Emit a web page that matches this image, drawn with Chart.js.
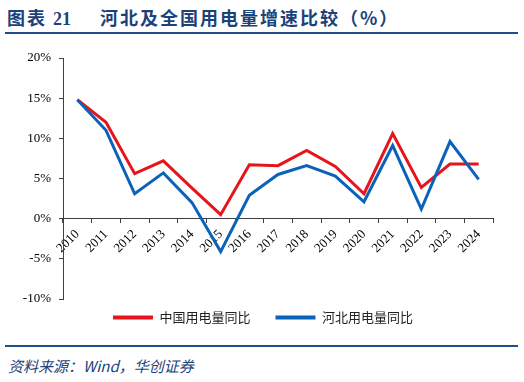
<!DOCTYPE html>
<html>
<head>
<meta charset="utf-8">
<script src="https://cdn.jsdelivr.net/npm/chart.js@4/dist/chart.umd.min.js"></script>
<style>
  html, body { margin: 0; padding: 0; background: #fff; }
  body { width: 524px; height: 382px; position: relative; overflow: hidden; }
  .title { position: absolute; top: 6px; left: 7px; font-family: "Noto Sans CJK SC", sans-serif; font-weight: bold; font-size: 18px; color: #1b4279; white-space: nowrap; letter-spacing: 2px; line-height: 22px; }
  .title .no { font-family: "Liberation Serif", serif; letter-spacing: 0; margin-left: 6px; }
  .title .txt { position: absolute; left: 93px; }
  .rule { position: absolute; left: 5px; width: 513px; height: 2px; background: #1f4e8c; }
  .source { position: absolute; top: 355px; left: 8px; font-family: "Noto Sans CJK SC", sans-serif; font-style: italic; font-size: 15px; color: #1b4279; white-space: nowrap; }
  #wrap { position: absolute; left: 0; top: 40px; width: 524px; height: 294px; }
</style>
</head>
<body>
<div class="title">图表<span class="no">21</span><span class="txt">河北及全国用电量增速比较（%）</span></div>
<div class="rule" style="top:32px"></div>
<div id="wrap"><canvas id="chart"></canvas></div>
<div class="rule" style="top:345px"></div>
<div class="source">资料来源：Wind，华创证券</div>
<script>
const years = ['2010', '2011', '2012', '2013', '2014', '2015', '2016', '2017',
               '2018', '2019', '2020', '2021', '2022', '2023', '2024'];
const china = [14.8, 12.0, 5.6, 7.2, 3.8, 0.5, 6.7, 6.6, 8.5, 6.5, 3.1, 10.6, 3.9, 6.8, 6.8];
const hebei = [14.8, 11.0, 3.1, 5.7, 2.0, -4.1, 2.9, 5.5, 6.6, 5.3, 2.1, 9.1, 1.2, 9.6, 4.9];
const yTicks = [-10, -5, 0, 5, 10, 15, 20];

const axisColor = '#404040';
const serif = { family: 'Liberation Serif', size: 13 };

new Chart(document.getElementById('chart'), {
  type: 'line',
  data: {
    labels: years,
    datasets: [{
      label: '中国用电量同比',
      data: china,
      borderColor: '#e8141c',
      backgroundColor: '#e8141c',
      borderWidth: 3,
      pointRadius: 0,
      tension: 0,
      order: 1
    }, {
      label: '河北用电量同比',
      data: hebei,
      borderColor: '#0a63b8',
      backgroundColor: '#0a63b8',
      borderWidth: 3,
      pointRadius: 0,
      tension: 0,
      order: 0
    }]
  },
  options: {
    responsive: true,
    maintainAspectRatio: false,
    animation: false,
    layout: { padding: { left: 18, right: 16, top: 18, bottom: 0 } },
    plugins: {
      tooltip: { enabled: false },
      legend: {
        position: 'bottom',
        labels: {
          boxWidth: 40,
          boxHeight: 4,
          padding: 12,
          color: '#222',
          font: { family: 'Noto Sans CJK SC', size: 13 },
          generateLabels(chart) {
            const items = Chart.defaults.plugins.legend.labels.generateLabels(chart);
            items.sort((a, b) => a.datasetIndex - b.datasetIndex);
            return items.map((it, i) => Object.assign(it, {
              text: i < items.length - 1 ? it.text + '\u3000' : it.text,
              lineWidth: 0,
              fillStyle: chart.data.datasets[it.datasetIndex].borderColor
            }));
          }
        }
      }
    },
    scales: {
      x: {
        position: { y: 0 },
        offset: true,
        grid: { display: true, offset: true, drawOnChartArea: false, drawTicks: true, tickLength: 4, color: axisColor },
        border: { display: true, color: axisColor, width: 1 },
        ticks: { autoSkip: false, maxRotation: 45, minRotation: 45, padding: 4, color: '#000', font: serif }
      },
      y: {
        min: -10,
        max: 20,
        afterFit(scale) { scale.width = 45; },
        afterBuildTicks(scale) { scale.ticks = yTicks.map(v => ({ value: v })); },
        grid: { display: true, drawOnChartArea: false, drawTicks: true, tickLength: 4, color: axisColor },
        border: { display: true, color: axisColor, width: 1 },
        ticks: { padding: 8, color: '#000', font: serif, callback: v => v + '%' }
      },
      // empty right-hand spacer so the legend centres like the original
      spacer: {
        type: 'linear',
        position: 'right',
        display: true,
        afterFit(scale) { scale.width = 15; },
        grid: { display: false },
        border: { display: false },
        ticks: { display: false }
      }
    }
  }
});
</script>
</body>
</html>
